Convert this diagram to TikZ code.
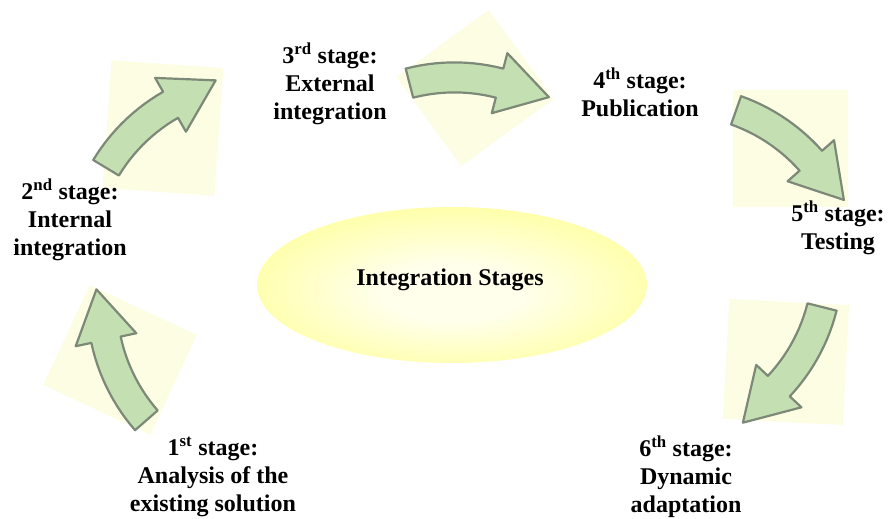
\documentclass[tikz,border=0pt]{standalone}
\usepackage{fontspec}
\setmainfont{Liberation Serif}
\usetikzlibrary{shapes.geometric}
\definecolor{ycenter}{RGB}{255,255,236}
\definecolor{ymid}{RGB}{255,255,165}
\definecolor{yedge}{RGB}{255,250,80}
\definecolor{palebg}{RGB}{253,253,228}
\definecolor{arrfill}{RGB}{196,223,178}
\definecolor{arrline}{RGB}{125,137,120}
\pgfdeclareradialshading{ellglow}{\pgfpoint{0bp}{-3bp}}{color(0bp)=(ycenter); color(9bp)=(ycenter); color(28bp)=(ymid); color(46bp)=(yedge); color(50bp)=(yedge)}
\tikzset{
  lbl/.style={font=\fontsize{24}{28}\selectfont\bfseries, align=center, inner sep=0pt},
  bgsq/.style={fill=palebg, draw=none, inner sep=0pt},
  arrowsty/.style={fill=arrfill, draw=arrline, line width=2.2pt, line join=round},
}
\newcommand\cyclearrow[3]{%
  \begin{scope}[shift={(#1,#2)}]
    \pgfmathsetmacro\aA{#3}
    \pgfmathsetmacro\aB{#3+29}
    \pgfmathsetmacro\aC{#3+45}
    \filldraw[arrowsty] plot[domain=\aA:\aB, samples=14, variable=\t] (\t:195)
      -- (\aB:211) -- (\aC:186) -- (\aB:149)
      -- plot[domain=\aB:\aA, samples=14, variable=\t] (\t:165) -- cycle;
  \end{scope}}
\begin{document}
\begin{tikzpicture}[x=1pt, y=-1pt]
\useasboundingbox (0,0) rectangle (889,519);
\fill[white] (0,0) rectangle (889,519);

% pale backgrounds behind arrows
\node[bgsq, minimum width=118pt, minimum height=110pt, rotate=-25] (bg1) at (120,360) {};
\node[bgsq, minimum width=112pt, minimum height=128pt, rotate=-4] (bg2) at (163,128) {};
\node[bgsq, minimum width=110pt, minimum height=114pt, rotate=-54] (bg3) at (475,88) {};
\node[bgsq, minimum width=115pt, minimum height=117pt] (bg4) at (790,148) {};
\node[bgsq, minimum width=120pt, minimum height=120pt, rotate=-3] (bg5) at (786,362) {};

% central ellipse
\node[ellipse, minimum width=390pt, minimum height=156pt, inner sep=0pt, shading=ellglow] (hub) at (452,285) {};
\node[lbl] (title) at (450,280) {Integration Stages};

% curved arrows
\cyclearrow{282}{302}{138.9}
\cyclearrow{260}{261}{211.2}
\cyclearrow{454.5}{257.4}{255.5}
\cyclearrow{676}{280}{289.5}
\cyclearrow{647.5}{263}{14.15}

% stage labels
\node[lbl] (s1) at (213,477) {1\textsuperscript{st} stage:\\Analysis of the\\existing solution};
\node[lbl] (s2) at (70,220) {2\textsuperscript{nd} stage:\\Internal\\integration};
\node[lbl] (s3) at (330,84) {3\textsuperscript{rd} stage:\\External\\integration};
\node[lbl] (s4) at (640,92) {4\textsuperscript{th} stage:\\Publication};
\node[lbl] (s5) at (838,228) {5\textsuperscript{th} stage:\\Testing};
\node[lbl] (s6) at (686,477) {6\textsuperscript{th} stage:\\Dynamic\\adaptation};
\end{tikzpicture}
\end{document}
